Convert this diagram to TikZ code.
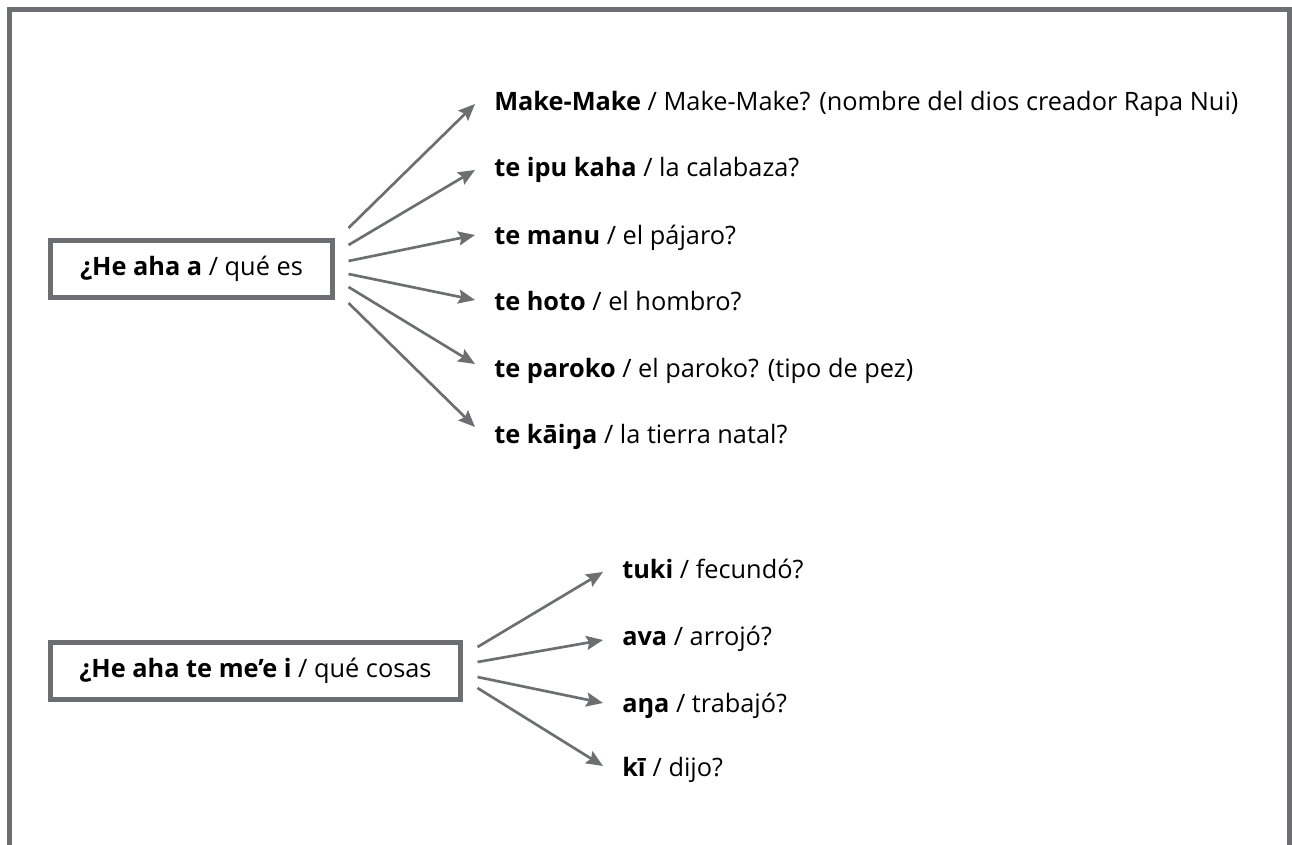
\documentclass[tikz,border=0pt]{standalone}
\usepackage{fontspec}
\setmainfont{Open Sans}
\usetikzlibrary{arrows.meta}

\definecolor{framegray}{RGB}{109,110,113}

\tikzset{
    qbox/.style={draw=framegray, line width=3.75pt, minimum height=42.75pt,
        inner sep=0pt, font=\fontsize{19}{23}\selectfont},
    answer/.style={anchor=base west, inner sep=0pt, font=\fontsize{19}{23}\selectfont},
    fanarrow/.style={draw=framegray, line width=2pt,
        -{Stealth[length=12.5pt,width=10.5pt,inset=2pt]}}
}

\begin{document}
\begin{tikzpicture}[x=0.75pt,y=-0.75pt]
    \useasboundingbox (0,0) rectangle (1292,845);

    % Draw the open frame round the page
    \draw[framegray, line width=3.75pt] (9.5,845) -- (9.5,9.5) -- (1289,9.5) -- (1289,845);

    % First question and its answers
    \node[qbox, minimum width=211.5pt] (b1) at (191.5,269) {\textbf{¿He aha a} / qué es};

    \node[answer] (r1) at (494,111) {\textbf{Make-Make} / Make-Make? (nombre del dios creador Rapa Nui)};
    \node[answer] (r2) at (494,177) {\textbf{te ipu kaha} / la calabaza?};
    \node[answer] (r3) at (494,244) {\textbf{te manu} / el pájaro?};
    \node[answer] (r4) at (494,310) {\textbf{te hoto} / el hombro?};
    \node[answer] (r5) at (494,377) {\textbf{te paroko} / el paroko? (tipo de pez)};
    \node[answer] (r6) at (494,443) {\textbf{te kāiŋa} / la tierra natal?};

    \draw[fanarrow] ([shift={(13.5,-41)}]b1.east) -- ([shift={(-19,-7)}]r1.base west);
    \draw[fanarrow] ([shift={(13.5,-24)}]b1.east) -- ([shift={(-19,-7)}]r2.base west);
    \draw[fanarrow] ([shift={(13.5,-8)}]b1.east) -- ([shift={(-19,-9)}]r3.base west);
    \draw[fanarrow] ([shift={(13.5,5)}]b1.east) -- ([shift={(-19,-10)}]r4.base west);
    \draw[fanarrow] ([shift={(13.5,18)}]b1.east) -- ([shift={(-19,-13)}]r5.base west);
    \draw[fanarrow] ([shift={(13.5,34)}]b1.east) -- ([shift={(-19,-16)}]r6.base west);

    % Second question and its answers
    \node[qbox, minimum width=307.5pt] (b2) at (255.5,671) {\textbf{¿He aha te me’e i} / qué cosas};

    \node[answer] (s1) at (622,578) {\textbf{tuki} / fecundó?};
    \node[answer] (s2) at (622,645) {\textbf{ava} / arrojó?};
    \node[answer] (s3) at (622,712) {\textbf{aŋa} / trabajó?};
    \node[answer] (s4) at (622,776) {\textbf{kī} / dijo?};

    \draw[fanarrow] ([shift={(14.5,-24)}]b2.east) -- ([shift={(-19,-6)}]s1.base west);
    \draw[fanarrow] ([shift={(14.5,-9)}]b2.east) -- ([shift={(-19,-5)}]s2.base west);
    \draw[fanarrow] ([shift={(14.5,6)}]b2.east) -- ([shift={(-19,-9)}]s3.base west);
    \draw[fanarrow] ([shift={(14.5,17)}]b2.east) -- ([shift={(-19,-10)}]s4.base west);

\end{tikzpicture}
\end{document}
